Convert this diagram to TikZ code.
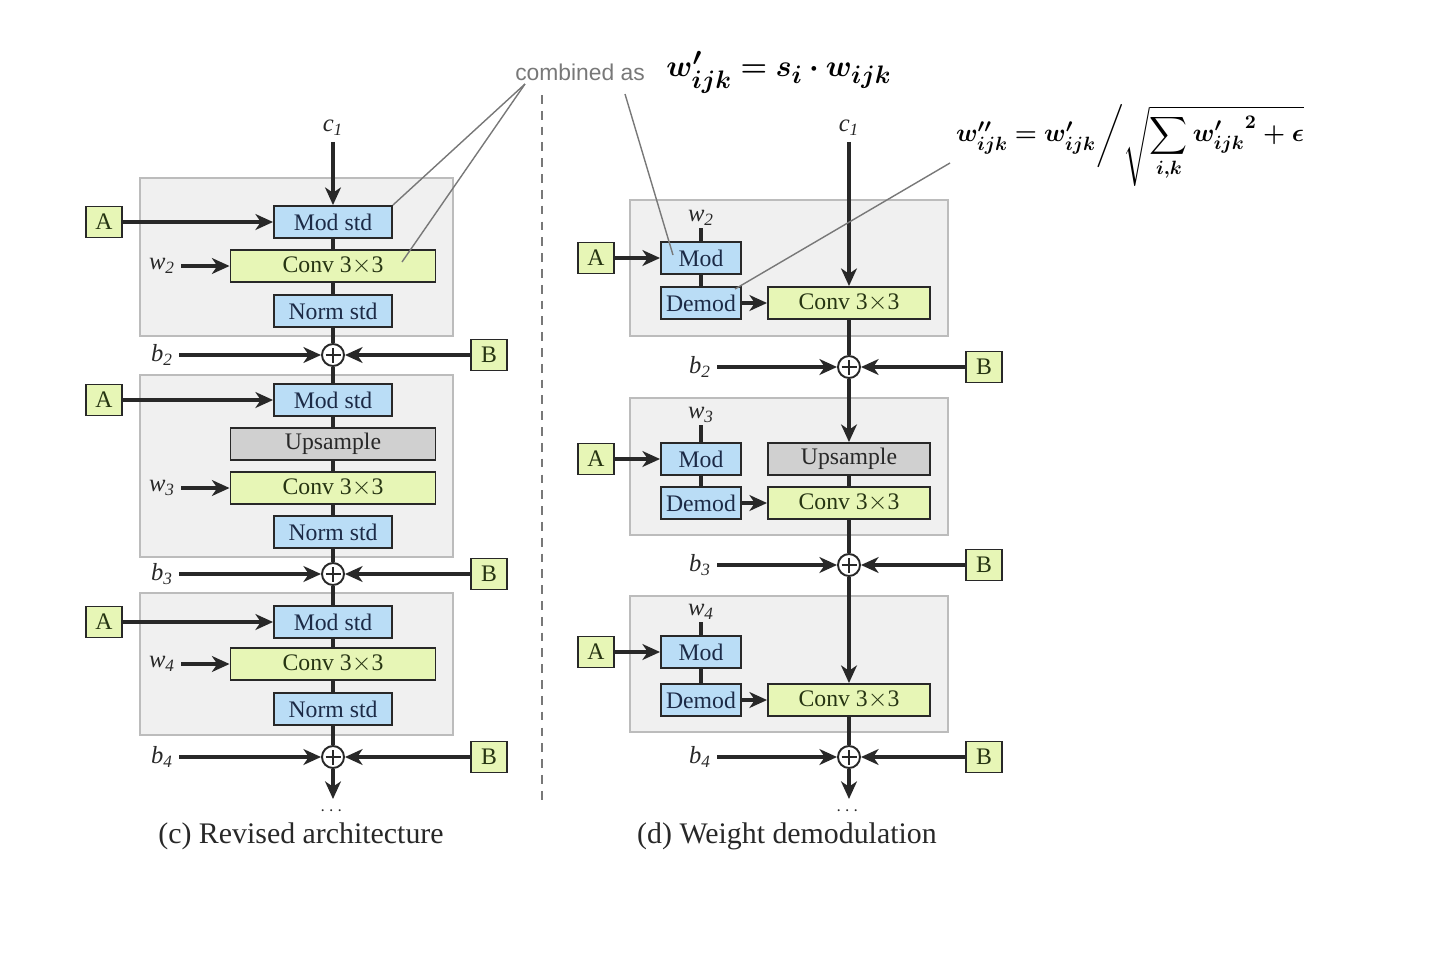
\documentclass[tikz,border=0pt]{standalone}
\usepackage{amsmath}
\usepackage{amssymb}
\usepackage{bm}
\usepackage{fontspec}
\setmainfont{Liberation Serif}
\setsansfont{Liberation Sans}
\usetikzlibrary{arrows.meta,positioning}

\definecolor{modblue}{RGB}{186,221,246}
\definecolor{modtext}{RGB}{28,42,70}
\definecolor{convgreen}{RGB}{231,246,182}
\definecolor{convtext}{RGB}{38,52,18}
\definecolor{upgray}{RGB}{208,208,208}
\definecolor{blockgray}{RGB}{240,240,240}
\definecolor{blockline}{RGB}{188,188,188}
\definecolor{boxline}{RGB}{40,40,40}
\definecolor{calloutgray}{RGB}{120,120,120}

\begin{document}
\begin{tikzpicture}[x=0.02cm,y=-0.02cm,
    every node/.style={font=\fontsize{13.5}{15}\selectfont,text=boxline},
    lbl/.style={font=\fontsize{14}{16}\selectfont\itshape,text=boxline},
    modbox/.style={draw=boxline,line width=1.1pt,fill=modblue,text=modtext,inner sep=0pt,minimum width=2.36cm,minimum height=0.64cm},
    convbox/.style={draw=boxline,line width=1.1pt,fill=convgreen,text=convtext,inner sep=0pt,minimum width=4.1cm,minimum height=0.64cm},
    upbox/.style={convbox,fill=upgray,text=boxline},
    smallbox/.style={modbox,minimum width=1.6cm},
    rconvbox/.style={convbox,minimum width=3.24cm},
    rupbox/.style={upbox,minimum width=3.24cm},
    abox/.style={draw=boxline,line width=1.1pt,fill=convgreen,text=convtext,inner sep=0pt,minimum width=0.72cm,minimum height=0.62cm},
    sumnode/.style={circle,draw=boxline,fill=white,line width=1.1pt,minimum size=0.44cm,inner sep=0pt,
      path picture={\draw[line width=0.6pt,boxline] (path picture bounding box.center) +(-0.15cm,0) -- +(0.15cm,0)
        (path picture bounding box.center) +(0,-0.15cm) -- +(0,0.15cm);}},
    block/.style={draw=blockline,fill=blockgray,line width=0.9pt},
    arr/.style={-{Stealth[length=10pt,width=9pt,inset=3pt]},line width=1.8pt,draw=boxline},
    wire/.style={line width=1.8pt,draw=boxline},
    callout/.style={draw=calloutgray,line width=0.8pt}]
  \useasboundingbox (0,0) rectangle (1438,958);

  % gray blocks
  \draw[block] (140,178) rectangle (453,336);
  \draw[block] (140,375) rectangle (453,557);
  \draw[block] (140,593) rectangle (453,735);
  \draw[block] (630,200) rectangle (948,336);
  \draw[block] (630,398) rectangle (948,535);
  \draw[block] (630,596) rectangle (948,732);

  \draw[dashed,dash pattern=on 5pt off 4pt,draw=calloutgray,line width=0.8pt] (542,95) -- (542,800);

  % (c) revised architecture
  \node [lbl] (lc) at (333,128) {c\textsubscript{1}};
  \node [modbox]  (lmod2)  at (333,222) {Mod std};
  \node [convbox] (lconv2) at (333,266) {Conv 3$\times$3};
  \node [modbox]  (lnorm2) at (333,311) {Norm std};
  \node [modbox]  (lmod3)  at (333,400) {Mod std};
  \node [upbox]   (lup3)   at (333,444) {Upsample};
  \node [convbox] (lconv3) at (333,488) {Conv 3$\times$3};
  \node [modbox]  (lnorm3) at (333,532) {Norm std};
  \node [modbox]  (lmod4)  at (333,622) {Mod std};
  \node [convbox] (lconv4) at (333,664) {Conv 3$\times$3};
  \node [modbox]  (lnorm4) at (333,709) {Norm std};
  \foreach \i/\y in {2/222,3/400,4/622}
    {\node [abox] (lA\i) at (104,\y) {A};
     \draw [arr] (lA\i) -- (lmod\i);}
  \foreach \i/\y in {2/266,3/488,4/664}
    {\node [lbl] (lw\i) at (162,\y) {w\textsubscript{\i}};
     \draw [arr] (lw\i) -- (lconv\i);}
  \foreach \i/\y in {2/355,3/574,4/757}
    {\node [sumnode] (ls\i) at (333,\y) {};
     \node [lbl] (lb\i) at (162,\y) {b\textsubscript{\i}};
     \node [abox] (lB\i) at (489,\y) {B};
     \draw [arr] (lb\i) -- (ls\i);
     \draw [arr] (lB\i) -- (ls\i);}
  \draw [arr] (lc) -- (lmod2);
  \draw [wire] (lmod2) -- (lconv2) -- (lnorm2) -- (ls2) -- (lmod3) -- (lup3) -- (lconv3)
    -- (lnorm3) -- (ls3) -- (lmod4) -- (lconv4) -- (lnorm4) -- (ls4);
  \coordinate (lend) at (333,799);
  \draw [arr] (ls4) -- (lend);
  \node [font=\fontsize{11}{12}\selectfont] (ldots) at (333,811) {$\cdots$};
  \node [font=\fontsize{17}{20}\selectfont] (lcap) at (301,836) {(c) Revised architecture};

  % (d) weight demodulation
  \node [lbl] (rc) at (849,128) {c\textsubscript{1}};
  \node [smallbox] (rmod2)  at (701,258) {Mod};
  \node [smallbox] (rdem2)  at (701,303) {Demod};
  \node [rconvbox] (rconv2) at (849,303) {Conv 3$\times$3};
  \node [smallbox] (rmod3)  at (701,459) {Mod};
  \node [smallbox] (rdem3)  at (701,503) {Demod};
  \node [rupbox]   (rup3)   at (849,459) {Upsample};
  \node [rconvbox] (rconv3) at (849,503) {Conv 3$\times$3};
  \node [smallbox] (rmod4)  at (701,652) {Mod};
  \node [smallbox] (rdem4)  at (701,700) {Demod};
  \node [rconvbox] (rconv4) at (849,700) {Conv 3$\times$3};
  \foreach \i/\y/\w in {2/258/218,3/459/415,4/652/612}
    {\node [abox] (rA\i) at (596,\y) {A};
     \node [lbl,inner sep=1pt] (rw\i) at (701,\w) {w\textsubscript{\i}};
     \draw [arr] (rA\i) -- (rmod\i);
     \draw [wire] (rmod\i) -- (rw\i);
     \draw [wire] (rmod\i) -- (rdem\i);
     \draw [arr] (rdem\i) -- (rconv\i);}
  \foreach \i/\y in {2/367,3/565,4/757}
    {\node [sumnode] (rs\i) at (849,\y) {};
     \node [lbl] (rb\i) at (700,\y) {b\textsubscript{\i}};
     \node [abox] (rB\i) at (984,\y) {B};
     \draw [arr] (rb\i) -- (rs\i);
     \draw [arr] (rB\i) -- (rs\i);}
  \draw [arr] (rc) -- (rconv2);
  \draw [wire] (rconv2) -- (rs2);
  \draw [arr] (rs2) -- (rup3);
  \draw [wire] (rup3) -- (rconv3) -- (rs3);
  \draw [arr] (rs3) -- (rconv4);
  \draw [wire] (rconv4) -- (rs4);
  \coordinate (rend) at (849,799);
  \draw [arr] (rs4) -- (rend);
  \node [font=\fontsize{11}{12}\selectfont] (rdots) at (849,811) {$\cdots$};
  \node [font=\fontsize{17}{20}\selectfont] (rcap) at (787,836) {(d) Weight demodulation};

  % formulas and callouts
  \node [font=\fontsize{13}{15}\selectfont\sffamily,text=calloutgray] (comb) at (580,72) {combined as};
  \node [font=\fontsize{19}{23}\selectfont,text=black] (f1) at (779,72) {$\bm{w'_{ijk} = s_i \cdot w_{ijk}}$};
  \node [font=\fontsize{15}{18}\selectfont,text=black] (f2) at (1130,145)
    {$\bm{w''_{ijk} = w'_{ijk}\bigg/\sqrt{\displaystyle\sum_{i,k}{w'_{ijk}}^2+\epsilon}}$};
  \coordinate (cm1) at (525,84);
  \coordinate (cm2) at (625,94);
  \coordinate (cm3) at (950,163);
  \coordinate (tconv) at (402,262);
  \coordinate (tmod) at (673,255);
  \coordinate (tdem) at (735,289);
  \draw [callout] (cm1) -- (lmod2.north east);
  \draw [callout] (cm1) -- (tconv);
  \draw [callout] (cm2) -- (tmod);
  \draw [callout] (cm3) -- (tdem);
\end{tikzpicture}
\end{document}
